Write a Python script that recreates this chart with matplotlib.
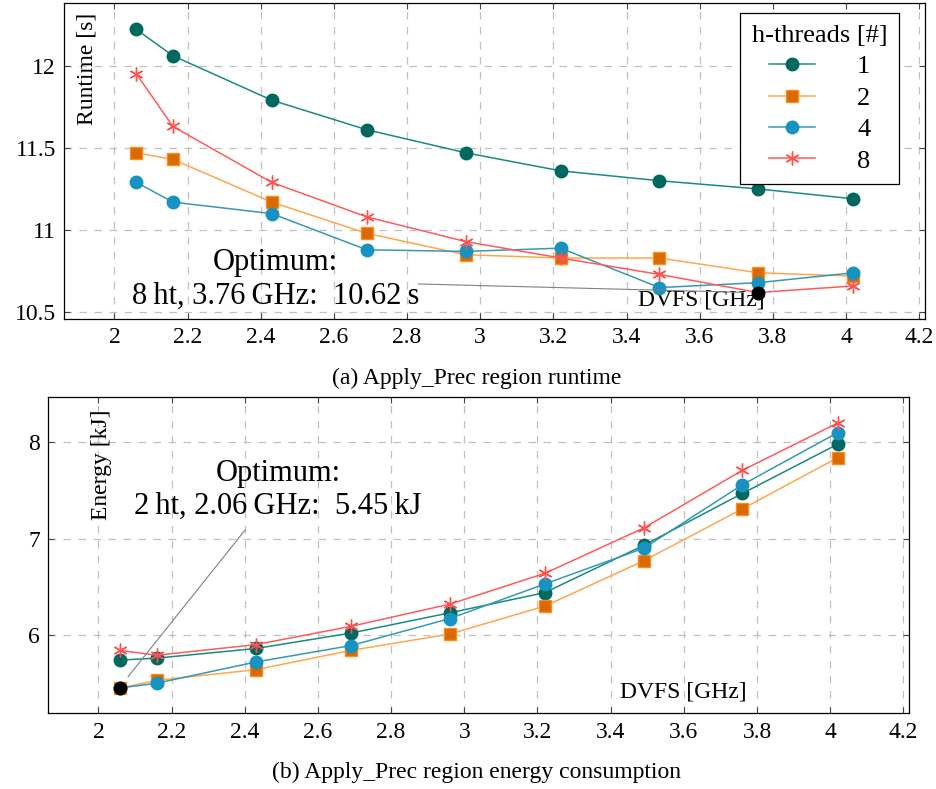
import numpy as np
import matplotlib.pyplot as plt
from matplotlib.ticker import FuncFormatter

plt.rcParams['font.family'] = ['Liberation Serif', 'DejaVu Serif']
plt.rcParams['mathtext.fontset'] = 'stix'

# DVFS frequencies [GHz]
freqs = [2.06, 2.16, 2.43, 2.69, 2.96, 3.22, 3.49, 3.76, 4.02]
threads = ['1', '2', '4', '8']

# runtime [s] per h-thread count
runtime_1 = [12.22, 12.06, 11.79, 11.61, 11.47, 11.36, 11.30, 11.25, 11.19]
runtime_2 = [11.47, 11.43, 11.17, 10.98, 10.85, 10.83, 10.83, 10.74, 10.72]
runtime_4 = [11.29, 11.17, 11.10, 10.88, 10.87, 10.89, 10.65, 10.68, 10.74]
runtime_8 = [11.95, 11.63, 11.29, 11.08, 10.93, 10.83, 10.73, 10.62, 10.66]

# energy [kJ] per h-thread count
energy_1 = [5.74, 5.76, 5.86, 6.02, 6.23, 6.44, 6.93, 7.47, 7.98]
energy_2 = [5.45, 5.53, 5.64, 5.84, 6.01, 6.30, 6.77, 7.31, 7.84]
energy_4 = [5.45, 5.50, 5.72, 5.89, 6.17, 6.53, 6.90, 7.56, 8.10]
energy_8 = [5.84, 5.79, 5.90, 6.09, 6.32, 6.64, 7.11, 7.71, 8.20]

# optima
opt_runtime = (3.76, 10.62)
opt_energy = (2.06, 5.45)

# styles: (marker, marker face, marker edge, line colour, marker size)
styles = [
    ('o', '#00695f', '#00695f', '#1a8a80', 9),
    ('s', '#d96a00', '#ff8c1a', '#ffa64d', 8.5),
    ('o', '#1793c2', '#1793c2', '#3798b3', 9),
    ((6, 2, 0), '#ff5050', '#ff5050', '#ff5a5a', 10),
]

fig = plt.figure(figsize=(9.37, 7.89), dpi=100)
ax1 = fig.add_axes([0.0686, 0.5957, 0.9186, 0.4005])
ax2 = fig.add_axes([0.0515, 0.0959, 0.9189, 0.4005])


def style_axes(ax, yticks):
    ax.set_xlim(1.863, 4.216)
    ax.set_xticks(np.round(np.arange(2.0, 4.21, 0.2), 1))
    ax.set_yticks(yticks)
    fmt = FuncFormatter(lambda v, p: '%g' % v)
    ax.xaxis.set_major_formatter(fmt)
    ax.yaxis.set_major_formatter(fmt)
    ax.grid(True, color='#c0c0c0', linestyle=(0, (6, 6)), linewidth=0.9)
    ax.set_axisbelow(True)
    ax.tick_params(direction='in', length=4, width=0.8, top=True, right=True,
                   labelsize=17, pad=6, color='#444444')
    for s in ax.spines.values():
        s.set_linewidth(0.9)


def draw_series(ax, series):
    for vals, lab, (mk, fc, ec, lc, ms) in zip(series, threads, styles):
        ax.plot(freqs, vals, color=lc, linewidth=1.1, marker=mk, markersize=ms,
                markerfacecolor=fc, markeredgecolor=ec, markeredgewidth=1.0,
                label=lab)


# (a) runtime
draw_series(ax1, [runtime_1, runtime_2, runtime_4, runtime_8])
ax1.plot(*opt_runtime, 'o', color='black', markersize=9, zorder=5)
style_axes(ax1, [10.5, 11, 11.5, 12])
ax1.set_ylim(10.459, 12.381)
ax1.set_xlabel('DVFS [GHz]', fontsize=17)
ax1.xaxis.set_label_coords(0.74, 0.06)
ax1.xaxis.label.set_va('center')
ax1.set_ylabel('Runtime [s]', fontsize=17)
ax1.yaxis.set_label_coords(0.026, 0.79)
ax1.yaxis.label.set_va('center')
ax1.text(2.44, 10.70, 'Optimum:\n8\u2009ht, 3.76\u2009GHz:  10.62\u2009s', fontsize=22,
         ha='center', va='center', multialignment='center', linespacing=1.2)
ax1.annotate('', xy=(3.72, 10.621), xytext=(2.83, 10.672),
             arrowprops=dict(arrowstyle='-', color='#808080', lw=0.8,
                             shrinkA=0, shrinkB=0))
leg = ax1.legend(title='h-threads [#]', loc='upper right',
                 bbox_to_anchor=(0.970, 0.968), borderaxespad=0,
                 fontsize=19, title_fontsize=19,
                 frameon=True, fancybox=False, edgecolor='black', framealpha=1,
                 handlelength=1.75, handletextpad=1.6, labelspacing=0.3,
                 borderpad=0.45, markerfirst=True)
leg.get_frame().set_linewidth(0.9)

# (b) energy
draw_series(ax2, [energy_1, energy_2, energy_4, energy_8])
ax2.plot(*opt_energy, 'o', color='black', markersize=9, zorder=5)
style_axes(ax2, [6, 7, 8])
ax2.set_ylim(5.187, 8.467)
ax2.set_xlabel('DVFS [GHz]', fontsize=17)
ax2.xaxis.set_label_coords(0.737, 0.067)
ax2.xaxis.label.set_va('center')
ax2.set_ylabel('Energy [kJ]', fontsize=17)
ax2.yaxis.set_label_coords(0.062, 0.786)
ax2.yaxis.label.set_va('center')
ax2.text(2.491, 7.505, 'Optimum:\n2\u2009ht, 2.06\u2009GHz:  5.45\u2009kJ', fontsize=22,
         ha='center', va='center', multialignment='center', linespacing=1.2)
ax2.annotate('', xy=(2.081, 5.567), xytext=(2.401, 7.09),
             arrowprops=dict(arrowstyle='-', color='#808080', lw=0.8,
                             shrinkA=0, shrinkB=0))

fig.text(477 / 937, 1 - 378 / 789, '(a) Apply_Prec region runtime',
         fontsize=17, ha='center', va='center')
fig.text(477 / 937, 1 - 772 / 789, '(b) Apply_Prec region energy consumption',
         fontsize=17, ha='center', va='center')

fig.savefig('out.png', dpi=100)
